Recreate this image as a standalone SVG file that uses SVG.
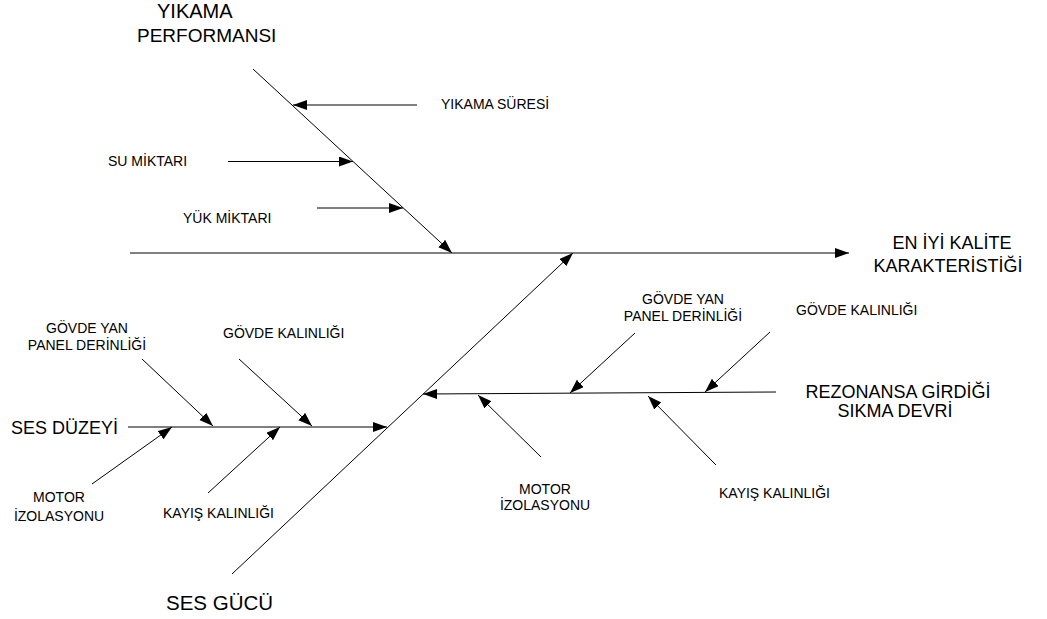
<svg xmlns="http://www.w3.org/2000/svg" width="1047" height="619" viewBox="0 0 1047 619">
<style>
.ln{stroke:#000;stroke-width:1;fill:none}
.ar{marker-end:url(#ah)}
text{font-family:"Liberation Sans",Arial,sans-serif;fill:#000}
.sm{font-size:14px}
.lg{font-size:18px}
.xl{font-size:20px}
</style>
<defs>
<marker id="ah" markerUnits="userSpaceOnUse" markerWidth="15" markerHeight="11" refX="14" refY="5" orient="auto">
<path d="M0,0 L14,5 L0,10 z" fill="#000"/>
</marker>
</defs>
<rect width="1047" height="619" fill="#fff"/>
<g id="connectors">
<line class="ln ar" x1="130" y1="253" x2="849" y2="253"/>
<line class="ln ar" x1="253" y1="69" x2="452" y2="253"/>
<line class="ln ar" x1="417" y1="105" x2="293" y2="105"/>
<line class="ln ar" x1="228" y1="161.5" x2="353" y2="161.5"/>
<line class="ln ar" x1="317" y1="208" x2="403" y2="208"/>
<line class="ln ar" x1="232" y1="574" x2="573" y2="253"/>
<line class="ln ar" x1="128" y1="427" x2="387" y2="427"/>
<line class="ln ar" x1="142" y1="359" x2="213" y2="426"/>
<line class="ln ar" x1="239" y1="359" x2="312" y2="426"/>
<line class="ln ar" x1="92" y1="484" x2="172" y2="427"/>
<line class="ln ar" x1="208" y1="493" x2="280" y2="427"/>
<line class="ln ar" x1="776" y1="392" x2="423" y2="394"/>
<line class="ln ar" x1="635" y1="333" x2="570" y2="393"/>
<line class="ln ar" x1="770" y1="332" x2="705" y2="392"/>
<line class="ln ar" x1="541" y1="457" x2="478" y2="395"/>
<line class="ln ar" x1="716" y1="465" x2="648" y2="396"/>
</g>
<g id="yikama-performansi">
<text class="xl" x="157" y="18">YIKAMA</text>
<text x="137" y="42" style="font-size:19px">PERFORMANSI</text>
</g>
<g id="yikama-suresi"><text class="sm" x="441" y="109">YIKAMA SÜRESİ</text></g>
<g id="su-miktari"><text class="sm" x="108" y="166">SU MİKTARI</text></g>
<g id="yuk-miktari"><text class="sm" x="183" y="223">YÜK MİKTARI</text></g>
<g id="en-iyi-kalite">
<text class="lg" x="952" y="249" text-anchor="middle">EN İYİ KALİTE</text>
<text class="lg" x="948" y="272" text-anchor="middle">KARAKTERİSTİĞİ</text>
</g>
<g id="ses-duzeyi"><text class="lg" x="11" y="434">SES DÜZEYİ</text></g>
<g id="ses-gucu"><text x="166" y="610" style="font-size:20.5px">SES GÜCÜ</text></g>
<g id="rezonans">
<text class="lg" x="898" y="398" text-anchor="middle">REZONANSA GİRDİĞİ</text>
<text class="lg" x="895" y="417" text-anchor="middle">SIKMA DEVRİ</text>
</g>
<g id="govde-yan-left">
<text class="sm" x="87" y="333" text-anchor="middle">GÖVDE YAN</text>
<text class="sm" x="87" y="350" text-anchor="middle">PANEL DERİNLİĞİ</text>
</g>
<g id="govde-kalinligi-left"><text class="sm" x="223" y="338">GÖVDE KALINLIĞI</text></g>
<g id="motor-left">
<text class="sm" x="59" y="502" text-anchor="middle">MOTOR</text>
<text class="sm" x="59" y="521" text-anchor="middle">İZOLASYONU</text>
</g>
<g id="kayis-left"><text class="sm" x="163" y="518">KAYIŞ KALINLIĞI</text></g>
<g id="govde-yan-right">
<text class="sm" x="683" y="304" text-anchor="middle">GÖVDE YAN</text>
<text class="sm" x="683" y="321" text-anchor="middle">PANEL DERİNLİĞİ</text>
</g>
<g id="govde-kalinligi-right"><text class="sm" x="796" y="315">GÖVDE KALINLIĞI</text></g>
<g id="motor-right">
<text class="sm" x="545" y="494" text-anchor="middle">MOTOR</text>
<text class="sm" x="545" y="510" text-anchor="middle">İZOLASYONU</text>
</g>
<g id="kayis-right"><text class="sm" x="719" y="498">KAYIŞ KALINLIĞI</text></g>
</svg>
